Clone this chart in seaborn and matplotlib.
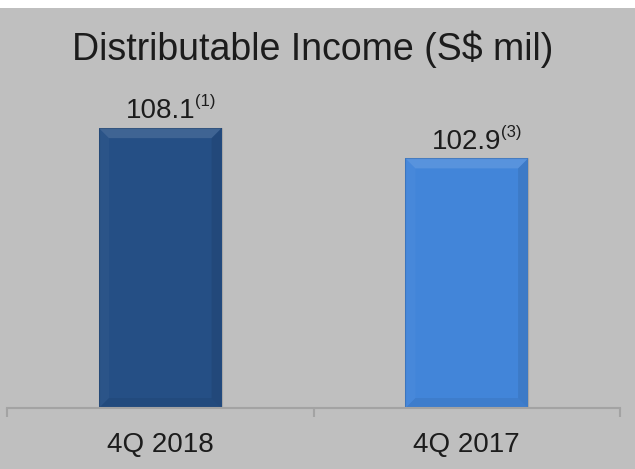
import matplotlib
matplotlib.use("Agg")
import matplotlib.pyplot as plt
from matplotlib.patches import Polygon, Rectangle
import seaborn as sns
import pandas as pd

# Chart data
categories = ["4Q 2018", "4Q 2017"]
values = [108.1, 102.9]
footnotes = ["(1)", "(3)"]
bar_colors = ["#254f85", "#4285d9"]
title = "Distributable Income (S$ mil)"

sns.set_style("white")
plt.rcParams["font.family"] = ["Liberation Sans", "DejaVu Sans"]

BG = "#bfbfbf"
AXIS_GREY = "#a3a3a3"
TEXT = "#1c1c1c"

W, H = 635, 469
fig = plt.figure(figsize=(W / 100, H / 100), dpi=100)
fig.patch.set_facecolor("white")
# grey panel below a thin white strip at the top
fig.patches.append(Rectangle((0, 0), 1, 1 - 8 / H, transform=fig.transFigure,
                             facecolor=BG, edgecolor="none", zorder=-10))

ax = fig.add_axes([7 / W, 61 / H, 613 / W, 400 / H])
ax.set_facecolor("none")
ax.set_zorder(1)

df = pd.DataFrame({"period": categories, "income": values})
sns.barplot(data=df, x="period", y="income", hue="period",
            palette=bar_colors, width=0.4, ax=ax, legend=False,
            saturation=1, edgecolor="none")

ax.set_xlim(-0.5, 1.5)
ax.set_ylim(60, 128.75)

# spines and ticks
for side in ["left", "right", "top"]:
    ax.spines[side].set_visible(False)
ax.spines["bottom"].set_color(AXIS_GREY)
ax.spines["bottom"].set_linewidth(1.5)
ax.set_yticks([])
ax.set_xlabel("")
ax.set_ylabel("")
ax.set_xticks(range(len(categories)))
ax.set_xticklabels(categories)
ax.set_xticks([-0.5, 0.5, 1.5], minor=True)
ax.tick_params(axis="x", which="major", length=0, pad=17,
               labelsize=20, labelcolor=TEXT)
ax.tick_params(axis="x", which="minor", bottom=True, length=6.5, width=1.5,
               color=AXIS_GREY, direction="out")

# bevelled look on each bar, built from the bar geometry
px_x = (ax.get_xlim()[1] - ax.get_xlim()[0]) / (613)
px_y = (ax.get_ylim()[1] - ax.get_ylim()[0]) / (400)
bev = 10
for patch in list(ax.patches):
    x0, w = patch.get_x(), patch.get_width()
    y1 = patch.get_y() + patch.get_height()
    y0 = max(patch.get_y(), ax.get_ylim()[0])
    x1 = x0 + w
    dx, dy = bev * px_x, bev * px_y
    faces = [
        ([(x0, y1), (x1, y1), (x1 - dx, y1 - dy), (x0 + dx, y1 - dy)], "white", 0.12),
        ([(x0, y0), (x0, y1), (x0 + dx, y1 - dy), (x0 + dx, y0 + dy)], "white", 0.03),
        ([(x1, y0), (x1, y1), (x1 - dx, y1 - dy), (x1 - dx, y0 + dy)], "black", 0.08),
        ([(x0, y0), (x1, y0), (x1 - dx, y0 + dy), (x0 + dx, y0 + dy)], "black", 0.06),
    ]
    for pts, col, a in faces:
        ax.add_patch(Polygon(pts, closed=True, facecolor=col, alpha=a,
                             edgecolor="none", zorder=patch.get_zorder() + 0.1))
    # thin darker outline
    ax.add_patch(Polygon([(x0, y0), (x0, y1), (x1, y1), (x1, y0)], closed=True,
                         facecolor="none", edgecolor="black", alpha=0.12,
                         linewidth=0.8, zorder=patch.get_zorder() + 0.2))

# value labels with footnote references
for i, (v, note) in enumerate(zip(values, footnotes)):
    t = ax.annotate(f"{v:.1f}", xy=(i, v), xytext=(0, 7), textcoords="offset points",
                    ha="center", va="baseline", fontsize=20, color=TEXT)
    ax.annotate(note, xy=(1, 1), xycoords=t, xytext=(0, 3),
                textcoords="offset points", ha="left", va="top",
                fontsize=12, color=TEXT)

fig.text(313 / W, 1 - 60 / H, title, ha="center", va="baseline",
         fontsize=27, color=TEXT)

fig.savefig("out.png", dpi=100, facecolor=fig.get_facecolor())
